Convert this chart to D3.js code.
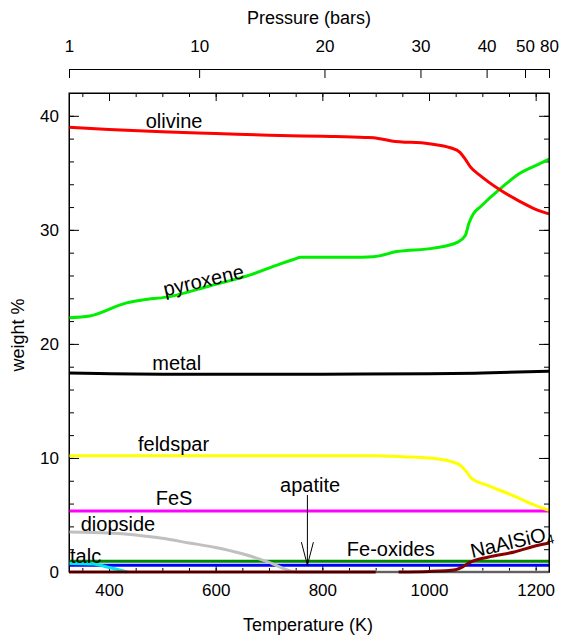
<!DOCTYPE html>
<html>
<head>
<meta charset="utf-8">
<script src="https://cdn.jsdelivr.net/npm/d3@7"></script>
<style>
  body { margin: 0; background: #fff; }
  text { font-family: "Liberation Sans", Arial, sans-serif; fill: #000; }
  .axis path, .axis line { stroke: #000; }
</style>
</head>
<body>
<div id="chart-area"></div>
<script>
// temperature (K) and weight %
var olivineT = [325, 400, 500, 600, 700, 800, 880, 905, 930, 1000, 1040, 1058, 1068, 1078, 1095, 1130, 1170, 1200, 1225];
var olivineV = [39.0, 38.8, 38.6, 38.45, 38.3, 38.2, 38.1, 38.02, 37.8, 37.55, 37.2, 36.8, 36.2, 35.5, 34.8, 33.6, 32.5, 31.8, 31.4];

var pyroxeneT = [325, 364, 433, 464, 508, 590, 665, 720, 746, 760, 853, 896, 940, 1009, 1053, 1068, 1075, 1083, 1097, 1131, 1172, 1203, 1225];
var pyroxeneV = [22.3, 22.45, 23.6, 23.86, 24.1, 25.1, 26.05, 27.0, 27.4, 27.6, 27.6, 27.65, 28.1, 28.4, 28.9, 29.5, 30.6, 31.4, 32.05, 33.5, 35.0, 35.7, 36.2];

var metalT = [325, 500, 800, 1000, 1100, 1225];
var metalV = [17.45, 17.35, 17.35, 17.38, 17.45, 17.6];

var feldsparT = [325, 900, 950, 1000, 1040, 1060, 1070, 1080, 1110, 1160, 1196, 1225];
var feldsparV = [10.2, 10.2, 10.1, 10.0, 9.7, 9.3, 8.8, 8.2, 7.6, 6.65, 5.9, 5.4];

var fesT = [325, 1225];
var fesV = [5.35, 5.35];

var diopsideT = [325, 400, 450, 500, 550, 600, 650, 700, 745, 760, 1225];
var diopsideV = [3.5, 3.42, 3.25, 2.95, 2.55, 2.15, 1.6, 0.85, 0.05, 0, 0];

var talcT = [325, 370, 400, 434];
var talcV = [0.75, 0.7, 0.4, 0];

var feOxidesT = [325, 1225];
var feOxidesV = [0.95, 0.95];

var apatiteT = [325, 1225];
var apatiteV = [0.6, 0.6];

// NaAlSiO4: null marks the gap between 900 and 943 K
var naalsio4T = [325, 900, 920, 943, 1000, 1050, 1065, 1075, 1110, 1160, 1205, 1225];
var naalsio4V = [0, 0, null, 0, 0.05, 0.2, 0.5, 0.8, 1.3, 1.75, 2.35, 2.55];

// pressure (bars) tick labels and the temperature where each one sits
var pressureTicks = [1, 10, 20, 30, 40, 50, 80];
var pressureTemps = [325, 569, 804, 984, 1108, 1180, 1225];

var tempTicks = [400, 600, 800, 1000, 1200];
var weightTicks = [0, 10, 20, 30, 40];

var width = 561, height = 639;
var margin = { left: 69, right: 12, top: 93, bottom: 67 };

var svg = d3.select("#chart-area")
    .append("svg")
        .attr("width", width)
        .attr("height", height);

var x = d3.scaleLinear()
    .domain([325, 1225])
    .range([margin.left, width - margin.right]);

var y = d3.scaleLinear()
    .domain([0, 42])
    .range([height - margin.bottom, margin.top]);

var p = d3.scaleLinear()
    .domain(pressureTicks)
    .range(pressureTemps.map(function(t) { return x(t); }));

var minorT = d3.range(350, 1225, 50);
var minorW = d3.range(2, 42, 2);

// bottom axis, ticks pointing inwards
svg.append("g")
    .attr("class", "axis")
    .attr("transform", "translate(0," + y(0) + ")")
    .call(d3.axisBottom(x).tickValues(minorT).tickSize(-4).tickFormat(""))
    .call(g => g.select(".domain").remove());
svg.append("g")
    .attr("class", "axis")
    .attr("transform", "translate(0," + y(0) + ")")
    .call(d3.axisBottom(x).tickValues(tempTicks).tickSize(-8).tickSizeOuter(0).tickPadding(12).tickFormat(d3.format("d")))
    .call(g => g.selectAll("text").attr("font-size", "17px"));

// top frame, ticks only
svg.append("g")
    .attr("class", "axis")
    .attr("transform", "translate(0," + y(42) + ")")
    .call(d3.axisTop(x).tickValues(minorT).tickSize(-4).tickFormat(""))
    .call(g => g.select(".domain").remove());
svg.append("g")
    .attr("class", "axis")
    .attr("transform", "translate(0," + y(42) + ")")
    .call(d3.axisTop(x).tickValues(tempTicks).tickSize(-8).tickSizeOuter(0).tickFormat(""));

// left axis
svg.append("g")
    .attr("class", "axis")
    .attr("transform", "translate(" + x(325) + ",0)")
    .call(d3.axisLeft(y).tickValues(minorW).tickSize(-5).tickFormat(""))
    .call(g => g.select(".domain").remove());
svg.append("g")
    .attr("class", "axis")
    .attr("transform", "translate(" + x(325) + ",0)")
    .call(d3.axisLeft(y).tickValues(weightTicks).tickSize(-10).tickSizeOuter(0).tickPadding(10))
    .call(g => g.selectAll("text").attr("font-size", "17px"));

// right axis
svg.append("g")
    .attr("class", "axis")
    .attr("transform", "translate(" + x(1225) + ",0)")
    .call(d3.axisRight(y).tickValues(minorW).tickSize(-5).tickFormat(""))
    .call(g => g.select(".domain").remove());
svg.append("g")
    .attr("class", "axis")
    .attr("transform", "translate(" + x(1225) + ",0)")
    .call(d3.axisRight(y).tickValues(weightTicks).tickSize(-10).tickSizeOuter(0).tickFormat(""));

// pressure axis above the frame
svg.append("g")
    .attr("class", "axis")
    .attr("transform", "translate(0,69)")
    .call(d3.axisTop(p).tickValues(pressureTicks).tickSize(-9).tickSizeOuter(0).tickPadding(17).tickFormat(d3.format("d")))
    .call(g => g.selectAll("text").attr("font-size", "17px"));

// axis titles
svg.append("text")
    .attr("x", 309)
    .attr("y", 24)
    .attr("font-size", "18px")
    .attr("text-anchor", "middle")
    .text("Pressure (bars)");

svg.append("text")
    .attr("x", 308)
    .attr("y", 631)
    .attr("font-size", "18px")
    .attr("text-anchor", "middle")
    .text("Temperature (K)");

svg.append("text")
    .attr("transform", "translate(24,335) rotate(-90)")
    .attr("font-size", "18px")
    .attr("text-anchor", "middle")
    .text("weight %");

// curves, drawn back to front
var series = [
    { name: "FeS", t: fesT, v: fesV, color: "#ff00ff" },
    { name: "feldspar", t: feldsparT, v: feldsparV, color: "#ffff00" },
    { name: "metal", t: metalT, v: metalV, color: "#000000" },
    { name: "pyroxene", t: pyroxeneT, v: pyroxeneV, color: "#00ee00" },
    { name: "olivine", t: olivineT, v: olivineV, color: "#ff0000" },
    { name: "Fe-oxides", t: feOxidesT, v: feOxidesV, color: "#008800" },
    { name: "apatite", t: apatiteT, v: apatiteV, color: "#0000ff" },
    { name: "diopside", t: diopsideT, v: diopsideV, color: "#c0c0c0" },
    { name: "talc", t: talcT, v: talcV, color: "#00e5ee" },
    { name: "NaAlSiO4", t: naalsio4T, v: naalsio4V, color: "#880000" }
];

var line = d3.line()
    .defined(d => d[1] !== null)
    .x(d => x(d[0]))
    .y(d => y(d[1]))
    .curve(d3.curveMonotoneX);

svg.selectAll(".curve")
    .data(series)
    .enter()
    .append("path")
        .attr("class", "curve")
        .attr("fill", "none")
        .attr("stroke", d => d.color)
        .attr("stroke-width", 3)
        .attr("d", d => line(d.t.map((t, i) => [t, d.v[i]])));

// frame
svg.append("rect")
    .attr("x", x(325))
    .attr("y", y(42))
    .attr("width", x(1225) - x(325))
    .attr("height", y(0) - y(42))
    .attr("fill", "none")
    .attr("stroke", "#000");

// curve labels, placed in data units
var labels = [
    { text: "olivine", t: 522, v: 38.93, anchor: "middle", rot: 0 },
    { text: "pyroxene", t: 580, v: 25.0, anchor: "middle", rot: -13 },
    { text: "metal", t: 527, v: 17.71, anchor: "middle", rot: 0 },
    { text: "feldspar", t: 521, v: 10.61, anchor: "middle", rot: 0 },
    { text: "FeS", t: 522, v: 5.87, anchor: "middle", rot: 0 },
    { text: "diopside", t: 347, v: 3.6, anchor: "start", rot: 0 },
    { text: "talc", t: 327, v: 0.79, anchor: "start", rot: 0 },
    { text: "apatite", t: 777, v: 7.0, anchor: "middle", rot: 0 },
    { text: "Fe-oxides", t: 846, v: 1.4, anchor: "start", rot: 0 }
];

svg.selectAll(".label")
    .data(labels)
    .enter()
    .append("text")
        .attr("class", "label")
        .attr("font-size", "20px")
        .attr("text-anchor", d => d.anchor)
        .attr("transform", d => "translate(" + x(d.t) + "," + y(d.v) + ") rotate(" + d.rot + ")")
        .text(d => d.text);

var na = svg.append("text")
    .attr("font-size", "20px")
    .attr("transform", "translate(" + x(1081) + "," + y(1.23) + ") rotate(-13)");
na.append("tspan").text("NaAlSiO");
na.append("tspan").attr("font-size", "13px").attr("dy", 4).text("4");

// apatite arrow
var ax = x(772), ay = y(0.6);
svg.append("path")
    .attr("fill", "none")
    .attr("stroke", "#000")
    .attr("stroke-width", 1)
    .attr("d", "M" + ax + "," + y(6.75) + "V" + ay +
        "M" + (ax - 6) + "," + (ay - 23) + "L" + ax + "," + ay + "L" + (ax + 6) + "," + (ay - 23));
</script>
</body>
</html>
